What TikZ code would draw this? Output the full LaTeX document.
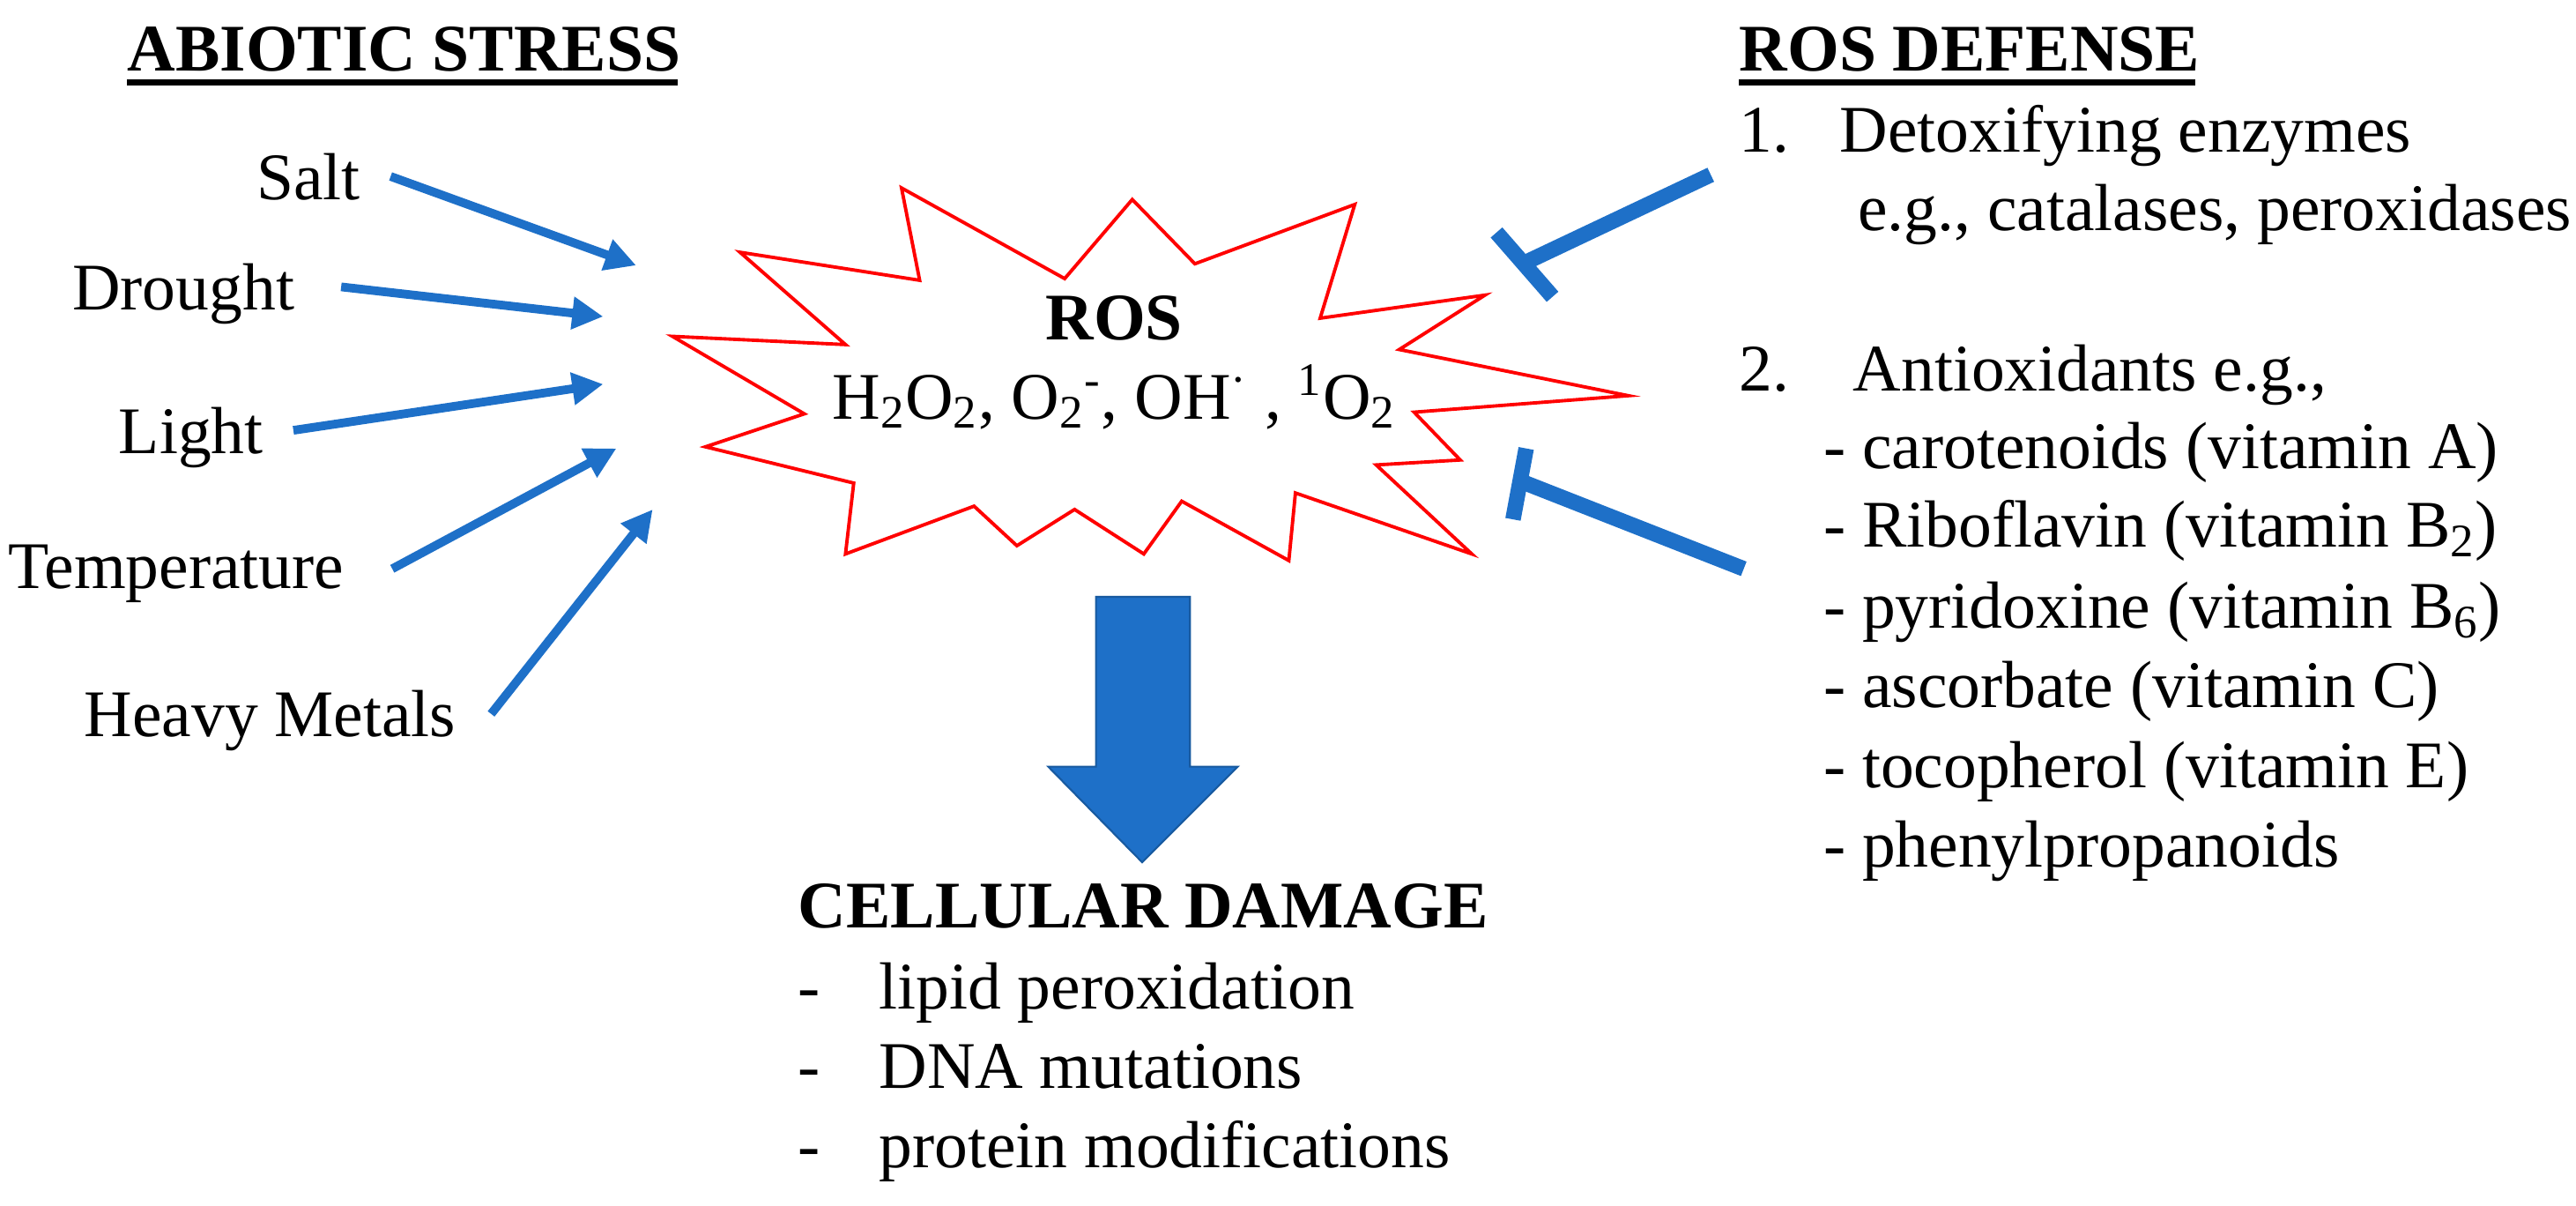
\documentclass[tikz,border=0pt]{standalone}
\usepackage{fontspec}
\setmainfont{Liberation Serif}
\usetikzlibrary{arrows.meta}
\definecolor{ablue}{RGB}{30,112,200}
\begin{document}
\begin{tikzpicture}[x=0.0187cm,y=-0.0187cm,
  txt/.style={inner sep=0pt,font=\fontsize{21.5}{26}\selectfont},
  lbl/.style={txt,anchor=base east},
  lft/.style={txt,anchor=base west},
  ttl/.style={txt,anchor=base west,font=\fontsize{21.5}{26}\selectfont\bfseries},
  sarr/.style={ablue,line width=2.8pt,-{Triangle[length=10pt,width=10pt]}},
  inh/.style={ablue,line width=5pt}]
\useasboundingbox (0,0) rectangle (1563,731);
% titles
\node[ttl] (abt) at (77,43) {ABIOTIC STRESS};
\draw[line width=2.2pt] (77,50) -- (411,50);
\node[ttl] (rdt) at (1055,43) {ROS DEFENSE};
\draw[line width=2.2pt] (1055,50) -- (1332,50);
% stress labels
\node[lbl] (salt) at (219,121) {Salt};
\node[lbl] (drought) at (179,188) {Drought};
\node[lbl] (light) at (160,275) {Light};
\node[lbl] (temp) at (209,357) {Temperature};
\node[lbl] (heavy) at (277,447) {Heavy Metals};
\coordinate (t1) at (237,107); \coordinate (h1) at (386,161);
\coordinate (t2) at (207,174); \coordinate (h2) at (366,192);
\coordinate (t3) at (178,261); \coordinate (h3) at (366,233);
\coordinate (t4) at (238,345); \coordinate (h4) at (374,272);
\coordinate (t5) at (298,433); \coordinate (h5) at (396,309);
\foreach \i in {1,...,5} \draw[sarr] (t\i) -- (h\i);
% star
\draw[red,line width=1.1pt,fill=white] (547,114) -- (646,169) -- (687,121) -- (725,160) -- (822,124) -- (801,193) -- (901,179) -- (849,212) -- (988,240) -- (858,250) -- (886,279) -- (835,282) -- (893,336) -- (786,299) -- (782,340) -- (717,304) -- (694,336) -- (652,309) -- (617,331) -- (591,307) -- (513,336) -- (518,293) -- (428,271) -- (488,251) -- (408,204) -- (513,209) -- (449,153) -- (558,170) -- cycle;
\node[txt,anchor=base,font=\fontsize{21.5}{26}\selectfont\bfseries] (ros) at (676,206) {ROS};
\node[txt,anchor=base] (form) at (676,254) {H\textsubscript{2}O\textsubscript{2}, O\textsubscript{2}\textsuperscript{-}, OH\textsuperscript{·} , \textsuperscript{1}O\textsubscript{2}};
% block arrow
\draw[ablue!80!black,line width=0.6pt,fill=ablue] (665,362) -- (722,362) -- (722,465) -- (751,465) -- (693,523) -- (636,465) -- (665,465) -- cycle;
% damage
\node[ttl] (dam) at (484,563) {CELLULAR DAMAGE};
\node[lft] (d1) at (484,612) {-};\node[lft] (d1t) at (533,612) {lipid peroxidation};
\node[lft] (d2) at (484,660) {-};\node[lft] (d2t) at (533,660) {DNA mutations};
\node[lft] (d3) at (484,708) {-};\node[lft] (d3t) at (533,708) {protein modifications};
% defense
\node[lft] (n1) at (1055,92) {1.};\node[lft] (n1t) at (1116,92) {Detoxifying enzymes};
\node[lft] (n1e) at (1127,140) {e.g., catalases, peroxidases};
\node[lft] (n2) at (1055,237) {2.};\node[lft] (n2t) at (1124,237) {Antioxidants e.g.,};
\node[lft] (a1) at (1106,284) {- carotenoids (vitamin A)};
\node[lft] (a2) at (1106,332) {- Riboflavin (vitamin B\textsubscript{2})};
\node[lft] (a3) at (1106,381) {- pyridoxine (vitamin B\textsubscript{6})};
\node[lft] (a4) at (1106,429) {- ascorbate (vitamin C)};
\node[lft] (a5) at (1106,478) {- tocopherol (vitamin E)};
\node[lft] (a6) at (1106,526) {- phenylpropanoids};
% inhibitors
\coordinate (i1s) at (1038,106); \coordinate (i1e) at (926,159);
\coordinate (b1a) at (908,141); \coordinate (b1b) at (942,180);
\coordinate (i2s) at (1058,345); \coordinate (i2e) at (923,292);
\coordinate (b2a) at (926,272); \coordinate (b2b) at (918,315);
\draw[inh] (i1s) -- (i1e); \draw[inh] (b1a) -- (b1b);
\draw[inh] (i2s) -- (i2e); \draw[inh] (b2a) -- (b2b);
\end{tikzpicture}
\end{document}
